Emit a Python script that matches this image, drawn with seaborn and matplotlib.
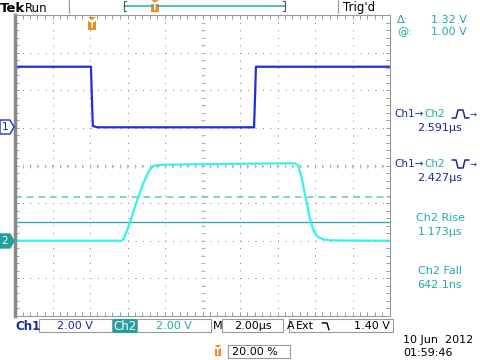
import numpy as np
import pandas as pd
import matplotlib
matplotlib.use("Agg")
import matplotlib.pyplot as plt
import seaborn as sns
from matplotlib.patches import Rectangle, Polygon
from matplotlib.lines import Line2D

# ---- data (time in microseconds, volts) ----
ch1_t = [-4.0, 0.05, 0.1, 0.15, 0.4, 8.75, 8.8, 8.85, 16.0]
ch1_v = [3.25, 3.25, 1.6, 0.1, 0.03, 0.03, 1.6, 3.25, 3.25]
ch2_t = [-4.0, 1.7, 1.8, 2.0, 2.3, 2.6, 2.9, 3.2, 3.4, 3.6, 4.0, 7.0, 10.9,
         11.1, 11.3, 11.5, 11.7, 11.9, 12.1, 12.4, 12.8, 16.0]
ch2_v = [0.0, 0.0, 0.1, 0.6, 1.5, 2.4, 3.2, 3.8, 3.98, 4.02, 4.04, 4.08, 4.12,
         4.0, 3.3, 2.3, 1.3, 0.6, 0.25, 0.08, 0.02, 0.0]
volts_per_div = {"Ch1": 2.0, "Ch2": 2.0}
offset_div = {"Ch1": 1.0, "Ch2": -2.0}
cursor_volts = [1.00, 2.32]
meas_labels = ["2.591\u00b5s", "2.427\u00b5s", "Ch2 Rise", "1.173\u00b5s", "Ch2 Fall", "642.1ns"]

W, H = 480, 360
C1 = "#1f2fd6"
C1T = "#1a2aa0"
C2 = "#33f2f2"
C2T = "#22aaaa"
ORANGE = "#f08a1c"

sns.set_style("white")
plt.rcParams["font.family"] = ["DejaVu Sans"]

fig = plt.figure(figsize=(W / 100, H / 100), dpi=100)


def fx(x):
    return x / W


def fy(y):
    return 1 - y / H


def txt(x, y, s, color="black", size=8, ha="left", va="center", weight="normal"):
    fig.text(fx(x), fy(y), s, color=color, fontsize=size, ha=ha, va=va, weight=weight)


def rect(x0, y0, x1, y1, fc="none", ec="#999999", lw=0.8):
    fig.patches.append(Rectangle((fx(x0), fy(y1)), fx(x1) - fx(x0), fy(y0) - fy(y1),
                                 transform=fig.transFigure, fc=fc, ec=ec, lw=lw))


def pline(xs, ys, color, lw=1.0, ls="-"):
    fig.lines.append(Line2D([fx(x) for x in xs], [fy(y) for y in ys],
                            transform=fig.transFigure, color=color, lw=lw, ls=ls))


ax = fig.add_axes([fx(15), fy(316), fx(390) - fx(15), fy(15) - fy(316)])

df = pd.concat([
    pd.DataFrame({"t": ch1_t, "div": np.array(ch1_v) / volts_per_div["Ch1"] + offset_div["Ch1"], "ch": "Ch1"}),
    pd.DataFrame({"t": ch2_t, "div": np.array(ch2_v) / volts_per_div["Ch2"] + offset_div["Ch2"], "ch": "Ch2"}),
])

# cursors
cur = [v / volts_per_div["Ch2"] + offset_div["Ch2"] for v in cursor_volts]
ax.axhline(cur[0], color="#3aa8a8", lw=1.0)
ax.axhline(cur[1], color="#6cc9c9", lw=1.2, ls=(0, (4, 3)))

sns.lineplot(data=df, x="t", y="div", hue="ch", palette={"Ch1": C1, "Ch2": C2},
             sort=False, estimator=None, legend=False, ax=ax, lw=1.6)

ax.set_xlim(-4, 16)
ax.set_ylim(-4, 4)
ax.set_xticks(np.arange(-4, 16.1, 2))
ax.set_yticks(np.arange(-4, 4.1, 1))
ax.set_xticks(np.arange(-4, 16.1, 0.4), minor=True)
ax.set_yticks(np.arange(-4, 4.1, 0.2), minor=True)
ax.set_xticklabels([])
ax.set_yticklabels([])
ax.set_xlabel("")
ax.set_ylabel("")
ax.grid(True, which="major", color="#888888", lw=0.72, ls=(0, (1, 6.5)))
ax.tick_params(which="both", direction="in", top=True, right=True, bottom=True, left=True,
               length=3, width=0.7, color="#999999")
for s in ["top", "right", "bottom"]:
    ax.spines[s].set_color("#999999")
    ax.spines[s].set_linewidth(0.8)
ax.spines["left"].set_color("#888888")
ax.spines["left"].set_linewidth(2.5)

# centre cross ticks
mx = np.arange(-4, 16.1, 0.4)
my = np.arange(-4, 4.1, 0.2)
ax.plot(mx, np.zeros_like(mx), ls="none", marker="|", ms=2.5, mew=0.6, color="#aaaaaa")
ax.plot(np.full_like(my, 6.0), my, ls="none", marker="_", ms=2.5, mew=0.6, color="#aaaaaa")

# ---- top bar ----
txt(0, 8, "Tek", size=9.5, weight="bold")
txt(25, 8, "Run", size=8.5)
pline([69, 69], [0, 13], "#999999", lw=0.8)
pline([338, 338], [0, 13], "#999999", lw=0.8)
pline([124, 285], [6, 6], "#3ab0b0", lw=1.2)
pline([126, 124, 124, 126], [1, 1, 11, 11], "#555555", lw=0.8)
pline([283, 285, 285, 283], [1, 1, 11, 11], "#555555", lw=0.8)
txt(343, 8, "Trig'd", size=8.5)


def tmark(x, y, s=1.0):
    fig.patches.append(Polygon([(fx(x - 4 * s), fy(y)), (fx(x + 4 * s), fy(y)), (fx(x), fy(y + 3 * s))],
                               closed=True, transform=fig.transFigure, fc=ORANGE, ec="none"))
    fig.patches.append(Rectangle((fx(x - 4 * s), fy(y + 13 * s)), fx(8 * s), fy(0) - fy(9 * s),
                                 transform=fig.transFigure, fc=ORANGE, ec="none"))
    fig.text(fx(x), fy(y + 8.5 * s), "T", color="white", fontsize=6.5 * s, ha="center", va="center",
             weight="bold")


tmark(155, 0, 0.9)
tmark(92, 17)

# ---- left markers ----
fig.patches.append(Polygon([(fx(0), fy(120)), (fx(10), fy(120)), (fx(14), fy(127)), (fx(10), fy(134)), (fx(0), fy(134))],
                           closed=True, transform=fig.transFigure, fc="white", ec=C1, lw=1))
txt(5, 127, "1", color=C1T, size=7.5, ha="center")
fig.patches.append(Polygon([(fx(0), fy(234)), (fx(10), fy(234)), (fx(14), fy(241)), (fx(10), fy(248)), (fx(0), fy(248))],
                           closed=True, transform=fig.transFigure, fc="#22a0a0", ec="#22a0a0", lw=1))
txt(5, 241, "2", color="white", size=7.5, ha="center")

# ---- right readouts ----
txt(397, 20, "\u0394:", color=C2T, size=8)
txt(467, 20, "1.32 V", color=C2T, size=8, ha="right")
txt(397, 32, "@:", color=C2T, size=8)
txt(467, 32, "1.00 V", color=C2T, size=8, ha="right")

for yy, rising in [(114, True), (164, False)]:
    txt(424, yy, "Ch1\u2192", color=C1T, size=7.5, ha="right")
    txt(424, yy, "Ch2", color=C2T, size=7.5)
    if rising:
        pline([452, 456, 458, 463, 465, 469], [yy + 4, yy + 4, yy - 4, yy - 4, yy + 4, yy + 4], C1T, lw=1.1)
    else:
        pline([452, 456, 458, 463, 465, 469], [yy - 4, yy - 4, yy + 4, yy + 4, yy - 4, yy - 4], C1T, lw=1.1)
    txt(470, yy, "\u2192", color=C1T, size=6)

txt(440, 128, meas_labels[0], color=C1T, size=8, ha="center")
txt(440, 178, meas_labels[1], color=C1T, size=8, ha="center")
txt(440, 218, meas_labels[2], color=C2T, size=8, ha="center")
txt(440, 232, meas_labels[3], color=C2T, size=8, ha="center")
txt(440, 271, meas_labels[4], color=C2T, size=8, ha="center")
txt(440, 285, meas_labels[5], color=C2T, size=8, ha="center")

# ---- bottom bar ----
txt(15, 326, "Ch1", color=C1T, size=8.5, weight="bold")
rect(39, 319, 112, 332)
txt(75, 326, "2.00 V", color=C1T, size=8, ha="center")
rect(113, 319, 136, 332, fc="#22a0a0", ec="#22a0a0")
txt(124.5, 326, "Ch2", color="white", size=8.5, ha="center")
rect(137, 319, 211, 332)
txt(174, 326, "2.00 V", color=C2T, size=8, ha="center")
txt(213, 326, "M", color="black", size=8)
rect(222, 319, 283, 332)
txt(253, 326, "2.00\u00b5s", color="black", size=8, ha="center")
txt(287, 326, "A", color="black", size=8)
rect(289, 319, 393, 332)
txt(296, 326, "Ext", color="black", size=8)
pline([322, 327, 329], [323, 323, 330], "black", lw=1.0)
txt(390, 326, "1.40 V", color="black", size=8, ha="right")

tmark(218, 345, 0.85)
rect(228, 345, 290, 358)
txt(232, 352, "20.00 %", color="black", size=8)

txt(403, 340, "10 Jun  2012", color="black", size=8)
txt(403, 353, "01:59:46", color="black", size=8)

fig.savefig("out.png", dpi=100)
